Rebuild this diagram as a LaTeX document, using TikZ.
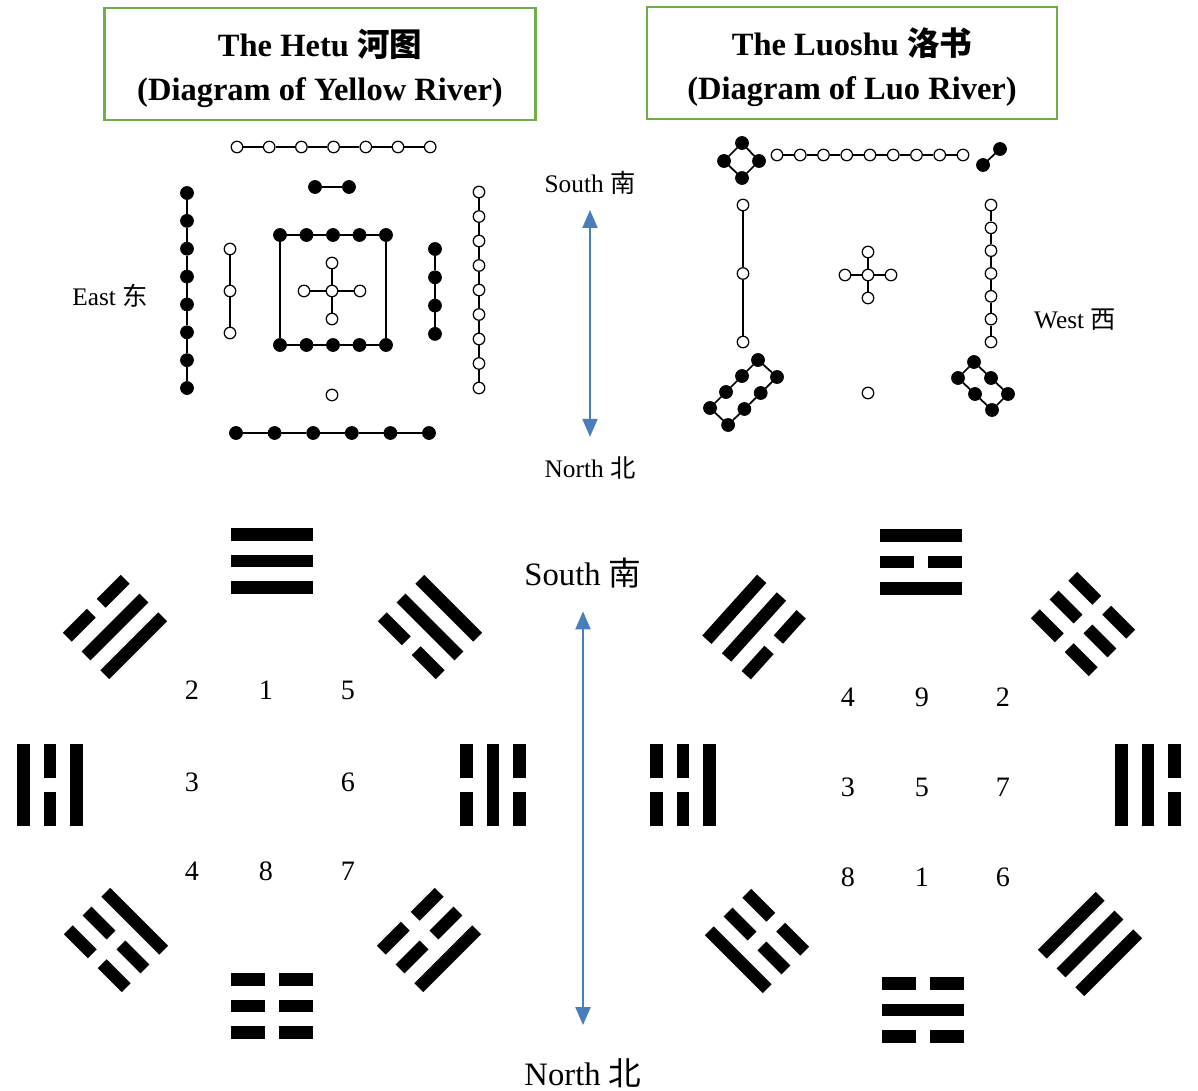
\documentclass[tikz,border=0pt]{standalone}
\usepackage{fontspec}
\setmainfont{Liberation Serif}
\newfontfamily\cjk{Noto Sans CJK SC}
\usepackage{xcolor}
\usetikzlibrary{positioning, arrows.meta}

\definecolor{boxgreen}{HTML}{70AD47}
\definecolor{axisblue}{HTML}{4A7EBB}

\begin{document}
\begin{tikzpicture}[x=0.02cm, y=-0.02cm,
  bdot/.style={circle, fill=black, draw=black, inner sep=0pt, minimum size=0.26cm},
  wdot/.style={circle, fill=white, draw=black, line width=0.7pt, inner sep=0pt, minimum size=0.23cm},
  ln/.style={line width=1pt},
  title/.style={draw=boxgreen, line width=1.4pt, minimum width=8.62cm, minimum height=2.24cm,
                align=center, font=\fontsize{18.5}{25}\selectfont\bfseries},
  dir/.style={inner sep=0pt, font=\fontsize{14.4}{16}\selectfont},
  bigdir/.style={inner sep=0pt, font=\fontsize{18.6}{21}\selectfont},
  num/.style={font=\fontsize{16}{18}\selectfont},
  ax/.style={{Triangle[length=0.36cm,width=0.3cm]}-{Triangle[length=0.36cm,width=0.3cm]},
             draw=axisblue, line width=1.2pt},
  bar/.style={line width=0.25cm}]
\useasboundingbox (0,0) rectangle (1198,1091);

\node[title] (hetu) at (320,64) {\rule{0pt}{21pt}The Hetu {\cjk 河图}\\(Diagram of Yellow River)};
\node[title, minimum width=8.2cm] (luoshu) at (852,63) {\rule{0pt}{21pt}The Luoshu {\cjk 洛书}\\(Diagram of Luo River)};

\node[dir] (south1) at (590,183) {South {\cjk 南}};
\node[dir] (north1) at (590,468) {North {\cjk 北}};
\draw[ax, shorten <=0.3cm, shorten >=0.39cm] (south1.south) -- (north1.north);
\node[dir] (east) at (110,296) {East {\cjk 东}};
\node[dir] (west) at (1075,320) {West {\cjk 西}};

\node[bigdir] (south2) at (583,573) {South {\cjk 南}};
\node[bigdir] (north2) at (583,1073) {North {\cjk 北}};
\draw[ax, shorten <=0.46cm, shorten >=0.66cm] (south2.south) -- (north2.north);

\foreach \i in {1,...,7} \node[wdot] (ht\i) at ({237+32.2*(\i-1)},147) {};
\foreach \i [count=\j from 2] in {1,...,6} \draw[ln] (ht\i) -- (ht\j);
\node[bdot] (hp1) at (315,187) {};
\node[bdot] (hp2) at (349,187) {};
\draw[ln] (hp1) -- (hp2);
\foreach \i in {1,...,8} \node[bdot] (hl\i) at (187,{193+27.86*(\i-1)}) {};
\foreach \i [count=\j from 2] in {1,...,7} \draw[ln] (hl\i) -- (hl\j);
\foreach \i in {1,...,3} \node[wdot] (hi\i) at (230,{249+42*(\i-1)}) {};
\foreach \i [count=\j from 2] in {1,...,2} \draw[ln] (hi\i) -- (hi\j);
\foreach \i in {1,...,5} {
  \node[bdot] (hq\i) at ({280+26.5*(\i-1)},235) {};
  \node[bdot] (hb\i) at ({280+26.5*(\i-1)},345) {};
}
\foreach \i [count=\j from 2] in {1,...,4} \draw[ln] (hq\i) -- (hq\j) (hb\i) -- (hb\j);
\draw[ln] (hq1) -- (hb1) (hq5) -- (hb5);
\node[wdot] (hc) at (332,291) {};
\node[wdot] (hcn) at (332,263) {};
\node[wdot] (hcs) at (332,319) {};
\node[wdot] (hcw) at (304,291) {};
\node[wdot] (hce) at (360,291) {};
\draw[ln] (hc) -- (hcn) (hc) -- (hcs) (hc) -- (hcw) (hc) -- (hce);
\foreach \i in {1,...,4} \node[bdot] (hr\i) at (435,{249+28.3*(\i-1)}) {};
\foreach \i [count=\j from 2] in {1,...,3} \draw[ln] (hr\i) -- (hr\j);
\foreach \i in {1,...,9} \node[wdot] (ho\i) at (479,{192+24.5*(\i-1)}) {};
\foreach \i [count=\j from 2] in {1,...,8} \draw[ln] (ho\i) -- (ho\j);
\node[wdot] (hs) at (332,395) {};
\foreach \i in {1,...,6} \node[bdot] (hn\i) at ({236+38.6*(\i-1)},433) {};
\foreach \i [count=\j from 2] in {1,...,5} \draw[ln] (hn\i) -- (hn\j);

\node[bdot] (ld1) at (742,143) {};
\node[bdot] (ld2) at (759,161) {};
\node[bdot] (ld3) at (742,178) {};
\node[bdot] (ld4) at (724,161) {};
\draw[ln] (ld1) -- (ld2) (ld2) -- (ld3) (ld3) -- (ld4) (ld4) -- (ld1);
\foreach \i in {1,...,9} \node[wdot] (lt\i) at ({777+23.25*(\i-1)},155) {};
\foreach \i [count=\j from 2] in {1,...,8} \draw[ln] (lt\i) -- (lt\j);
\node[bdot] (lp1) at (983,165) {};
\node[bdot] (lp2) at (1000,149) {};
\draw[ln] (lp1) -- (lp2);
\foreach \i in {1,...,3} \node[wdot] (ll\i) at (743,{205+68.5*(\i-1)}) {};
\foreach \i [count=\j from 2] in {1,...,2} \draw[ln] (ll\i) -- (ll\j);
\node[wdot] (lc) at (868,275) {};
\node[wdot] (lcn) at (868,252) {};
\node[wdot] (lcs) at (868,298) {};
\node[wdot] (lcw) at (845,275) {};
\node[wdot] (lce) at (891,275) {};
\draw[ln] (lc) -- (lcn) (lc) -- (lcs) (lc) -- (lcw) (lc) -- (lce);
\foreach \i in {1,...,7} \node[wdot] (lr\i) at (991,{205+22.83*(\i-1)}) {};
\foreach \i [count=\j from 2] in {1,...,6} \draw[ln] (lr\i) -- (lr\j);
\foreach \i in {1,...,4} {
  \node[bdot] (la\i) at ({758-16*(\i-1)},{360+16*(\i-1)}) {};
  \node[bdot] (lb\i) at ({777-16.3*(\i-1)},{377+16*(\i-1)}) {};
}
\foreach \i [count=\j from 2] in {1,...,3} \draw[ln] (la\i) -- (la\j) (lb\i) -- (lb\j);
\draw[ln] (la1) -- (lb1) (la4) -- (lb4);
\node[wdot] (ls) at (868,393) {};
\foreach \i in {1,...,3} {
  \node[bdot] (ra\i) at ({958+17*(\i-1)},{378+16*(\i-1)}) {};
  \node[bdot] (rb\i) at ({974+17*(\i-1)},{362+16*(\i-1)}) {};
}
\foreach \i [count=\j from 2] in {1,...,2} \draw[ln] (ra\i) -- (ra\j) (rb\i) -- (rb\j);
\draw[ln] (ra1) -- (rb1) (ra3) -- (rb3);

\foreach \tx/\ty/\ang/\ta/\tb/\tc in {
  272/561/0/1/1/1, 115/627/45/0/1/1, 430/627/-45/1/1/0,
  50/785/90/1/0/1, 493/785/90/0/1/0,
  116/940/-45/1/0/0, 429/940/45/0/0/1, 272/1006/0/0/0/0,
  921/562/0/1/0/1, 754/627/48/1/1/0, 1083/624/-45/0/0/0,
  683/785/90/0/0/1, 1148/785/90/1/1/0,
  757/941/-45/0/0/1, 1090/944/45/1/1/1, 923/1010/0/0/1/0} {
  \begin{scope}[shift={(\tx,\ty)}, rotate=\ang]
    \foreach \kk/\sol in {-1/\ta, 0/\tb, 1/\tc} {
      \ifnum\sol=1
        \draw[bar] (-41,26.5*\kk) -- (41,26.5*\kk);
      \else
        \draw[bar] (-41,26.5*\kk) -- (-7,26.5*\kk) (7,26.5*\kk) -- (41,26.5*\kk);
      \fi
    }
  \end{scope}
}

\foreach \v/\px/\py in {2/192/690, 1/266/690, 5/348/690, 3/192/782, 6/348/782,
                        4/192/871, 8/266/871, 7/348/871}
  \node[num] (l\v) at (\px,\py) {\v};
\foreach \v/\px/\py in {4/848/697, 9/922/697, 2/1003/697, 3/848/787, 5/922/787,
                        7/1003/787, 8/848/877, 1/922/877, 6/1003/877}
  \node[num] (r\v) at (\px,\py) {\v};
\end{tikzpicture}
\end{document}
